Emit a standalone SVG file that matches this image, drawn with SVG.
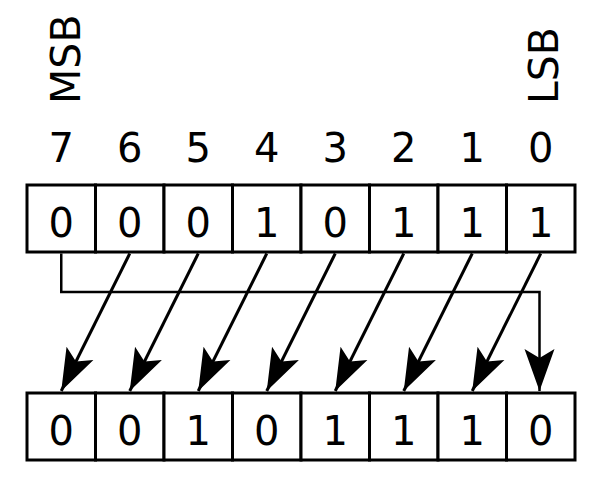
<svg xmlns="http://www.w3.org/2000/svg" width="600" height="480" viewBox="0 0 600 480">
<style>
  .box { fill: #fff; stroke: #000; stroke-width: 3; }
  .t { font-family: "DejaVu Sans", sans-serif; font-size: 40px; fill: #000; text-anchor: middle; }
  .r { font-family: "DejaVu Sans", sans-serif; font-size: 41px; fill: #000; }
  .c { fill: none; stroke: #000; stroke-width: 3; marker-end: url(#ah); }
</style>
<defs>
  <marker id="ah" markerUnits="userSpaceOnUse" orient="auto" refX="0" refY="0" markerWidth="1" markerHeight="1" overflow="visible" style="overflow:visible">
    <path d="M0,0 L-42,-15 L-33,0 L-42,15 Z" fill="#000"/>
  </marker>
</defs>
<rect width="600" height="480" fill="#fff"/>
<g id="labels">
  <text class="r" transform="translate(80,104) rotate(-90)">MSB</text>
  <text class="r" transform="translate(558,104) rotate(-90)">LSB</text>
  <text class="t" x="61.25" y="162">7</text>
  <text class="t" x="129.75" y="162">6</text>
  <text class="t" x="198.25" y="162">5</text>
  <text class="t" x="266.75" y="162">4</text>
  <text class="t" x="335.25" y="162">3</text>
  <text class="t" x="403.75" y="162">2</text>
  <text class="t" x="472.25" y="162">1</text>
  <text class="t" x="540.75" y="162">0</text>
</g>
<g id="top-register">
  <g id="top-b7"><rect class="box" x="27" y="185" width="68.5" height="67"/><text class="t" x="61.25" y="236.5">0</text></g>
  <g id="top-b6"><rect class="box" x="95.5" y="185" width="68.5" height="67"/><text class="t" x="129.75" y="236.5">0</text></g>
  <g id="top-b5"><rect class="box" x="164" y="185" width="68.5" height="67"/><text class="t" x="198.25" y="236.5">0</text></g>
  <g id="top-b4"><rect class="box" x="232.5" y="185" width="68.5" height="67"/><text class="t" x="266.75" y="236.5">1</text></g>
  <g id="top-b3"><rect class="box" x="301" y="185" width="68.5" height="67"/><text class="t" x="335.25" y="236.5">0</text></g>
  <g id="top-b2"><rect class="box" x="369.5" y="185" width="68.5" height="67"/><text class="t" x="403.75" y="236.5">1</text></g>
  <g id="top-b1"><rect class="box" x="438" y="185" width="68.5" height="67"/><text class="t" x="472.25" y="236.5">1</text></g>
  <g id="top-b0"><rect class="box" x="506.5" y="185" width="68.5" height="67"/><text class="t" x="540.75" y="236.5">1</text></g>
</g>
<g id="bottom-register">
  <g id="bot-b7"><rect class="box" x="27" y="393" width="68.5" height="67"/><text class="t" x="61.25" y="444.5">0</text></g>
  <g id="bot-b6"><rect class="box" x="95.5" y="393" width="68.5" height="67"/><text class="t" x="129.75" y="444.5">0</text></g>
  <g id="bot-b5"><rect class="box" x="164" y="393" width="68.5" height="67"/><text class="t" x="198.25" y="444.5">1</text></g>
  <g id="bot-b4"><rect class="box" x="232.5" y="393" width="68.5" height="67"/><text class="t" x="266.75" y="444.5">0</text></g>
  <g id="bot-b3"><rect class="box" x="301" y="393" width="68.5" height="67"/><text class="t" x="335.25" y="444.5">1</text></g>
  <g id="bot-b2"><rect class="box" x="369.5" y="393" width="68.5" height="67"/><text class="t" x="403.75" y="444.5">1</text></g>
  <g id="bot-b1"><rect class="box" x="438" y="393" width="68.5" height="67"/><text class="t" x="472.25" y="444.5">1</text></g>
  <g id="bot-b0"><rect class="box" x="506.5" y="393" width="68.5" height="67"/><text class="t" x="540.75" y="444.5">0</text></g>
</g>
<g id="connectors">
  <path class="c" d="M129.75,253.5 L61.25,391"/>
  <path class="c" d="M198.25,253.5 L129.75,391"/>
  <path class="c" d="M266.75,253.5 L198.25,391"/>
  <path class="c" d="M335.25,253.5 L266.75,391"/>
  <path class="c" d="M403.75,253.5 L335.25,391"/>
  <path class="c" d="M472.25,253.5 L403.75,391"/>
  <path class="c" d="M540.75,253.5 L472.25,391"/>
  <path class="c" style="stroke-width:2.5" d="M61.25,253.5 V292 H539.5 V391"/>
</g>
</svg>
